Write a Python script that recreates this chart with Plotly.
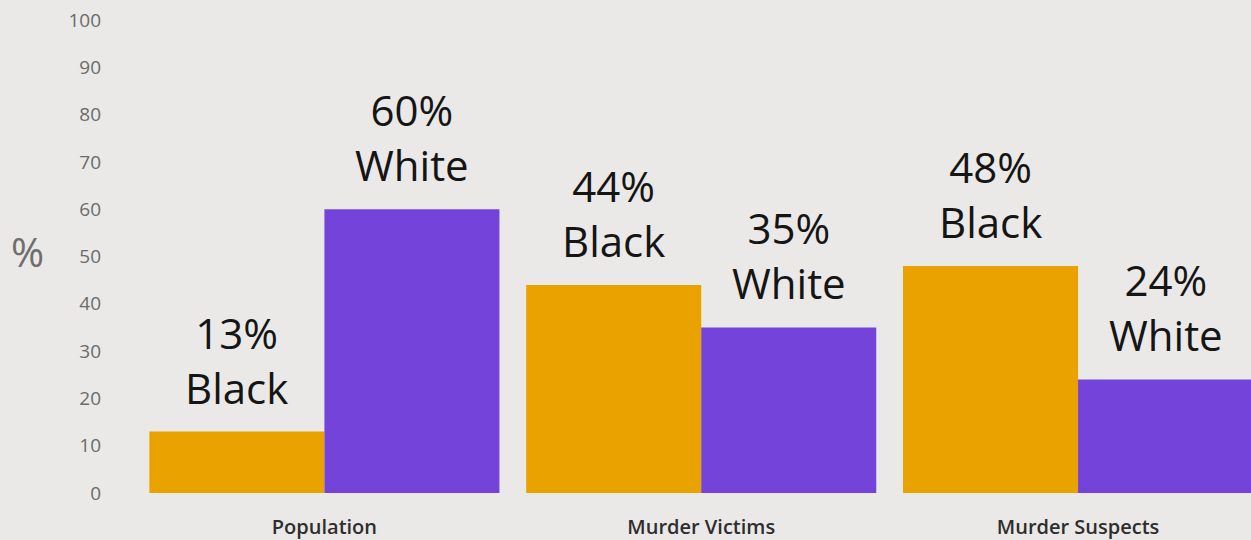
import plotly.graph_objects as go

# Shares of population, murder victims and murder suspects (%)
categories = ["Population", "Murder Victims", "Murder Suspects"]
black = [13, 44, 48]
white = [60, 35, 24]
y_ticks = list(range(0, 101, 10))

ORANGE = "#E9A200"
PURPLE = "#7444DA"
BG = "#EAE9E7"
FONT = "Open Sans"

fig = go.Figure()
fig.add_trace(go.Bar(x=categories, y=black, name="Black", marker=dict(color=ORANGE, line_width=0)))
fig.add_trace(go.Bar(x=categories, y=white, name="White", marker=dict(color=PURPLE, line_width=0)))

# big value labels above each bar
big = dict(family=FONT, size=42, color="#151515", weight=500)
for i, cat in enumerate(categories):
    for val, label, shift in [(black[i], "Black", -88), (white[i], "White", 88)]:
        fig.add_annotation(x=cat, y=val, text=f"{val}%<br>{label}", showarrow=False,
                           xanchor="center", yanchor="bottom",
                           xshift=shift, yshift=14, font=big)

fig.add_annotation(
    x=-0.097, y=51, xref="paper", yref="y", text="%", showarrow=False,
    xanchor="center", yanchor="middle",
    font=dict(family=FONT, size=40, color="#6e6e6e"),
)

fig.update_layout(
    width=1251, height=540,
    margin=dict(l=136, r=0, t=20, b=47),
    paper_bgcolor=BG, plot_bgcolor=BG,
    barmode="group", bargap=0.071, bargroupgap=0,
    showlegend=False,
    xaxis=dict(
        range=[-0.5, 2.459], showgrid=False, zeroline=False, showline=False,
        ticks="", ticklabelstandoff=20,
        tickfont=dict(family=FONT, size=20, color="#2e2e2e", weight=600),
    ),
    yaxis=dict(
        range=[0, 100], tickvals=y_ticks, showgrid=False, zeroline=False,
        showline=False, ticks="", ticklabelstandoff=34,
        tickfont=dict(family=FONT, size=19, color="#6b6b6b", weight=500),
    ),
)

# drop the page's default body margin so the figure fills the window
fig.write_html("out.html", config={"displayModeBar": False},
               post_script="document.body.style.margin='0';")
